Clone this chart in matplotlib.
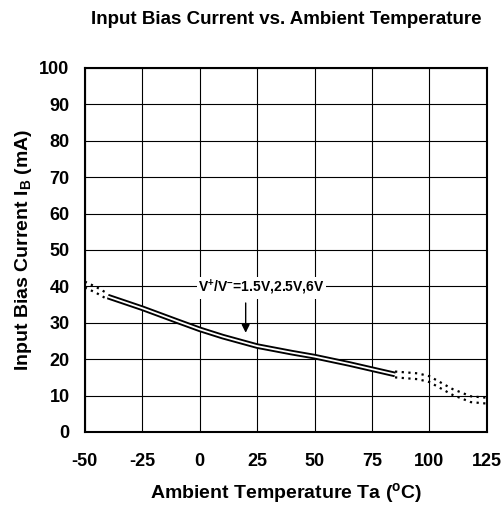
import matplotlib.pyplot as plt

plt.rcParams['font.family'] = ['Liberation Sans', 'DejaVu Sans']
plt.rcParams['font.weight'] = 'bold'
plt.rcParams['mathtext.default'] = 'regular'
plt.rcParams['axes.unicode_minus'] = False

# 实测曲线 (-40 ~ 85 实线)
temp = [-40, -25, -10, 0, 10, 25, 40, 50, 65, 85]
ib = [37.2, 34.0, 30.5, 28.2, 26.2, 23.6, 21.8, 20.7, 18.7, 15.8]
# 外推部分 (虚线)
temp_lo = [-50, -45, -40]
ib_lo = [40.5, 39.0, 37.2]
temp_hi = [85, 95, 100, 110, 118, 125]
ib_hi = [15.8, 15.3, 14.5, 11.0, 9.0, 8.6]

xticks = [-50, -25, 0, 25, 50, 75, 100, 125]
yticks = list(range(0, 101, 10))

fig = plt.figure(figsize=(5.02, 5.05), dpi=100)
ax = fig.add_axes([0.169, 0.1446, 0.801, 0.7208])

# 双线效果: 粗黑线 + 细白线
ax.plot(temp, ib, color='black', lw=4.0, solid_capstyle='butt', zorder=3)
ax.plot(temp, ib, color='white', lw=1.3, solid_capstyle='butt', zorder=4)
off = 0.8
for tx, iy in [(temp_lo, ib_lo), (temp_hi, ib_hi)]:
    ax.plot(tx, [v + off for v in iy], color='black', lw=1.6, ls=(0, (1, 2)), zorder=3)
    ax.plot(tx, [v - off for v in iy], color='black', lw=1.6, ls=(0, (1, 2)), zorder=3)

ax.set_xlim(-50, 125)
ax.set_ylim(0, 100)
ax.set_xticks(xticks)
ax.set_yticks(yticks)
ax.tick_params(length=0, labelsize=13, pad=15)
ax.tick_params(axis='y', pad=11)
for lab in ax.get_xticklabels() + ax.get_yticklabels():
    lab.set_fontweight('bold')
ax.grid(True, color='black', lw=0.8)
for s in ax.spines.values():
    s.set_linewidth(1.5)

ax.text(27, 39.6, 'V$^{+}$/V$^{-}$=1.5V,2.5V,6V', fontsize=10, fontweight='bold',
        ha='center', va='center', zorder=5,
        bbox=dict(facecolor='white', edgecolor='none', pad=1))
ax.annotate('', xy=(20, 26.5), xytext=(20, 36.2),
            arrowprops=dict(arrowstyle='-|>', color='black', lw=1, mutation_scale=12), zorder=5)

ax.set_title('Input Bias Current vs. Ambient Temperature', fontsize=13.5, fontweight='bold', pad=32)
ax.set_xlabel('Ambient Temperature Ta ($^{o}$C)', fontsize=14, fontweight='bold', labelpad=8)
ax.set_ylabel('Input Bias Current I$_{B}$ (mA)', fontsize=14, fontweight='bold', labelpad=4)

plt.savefig('out.png', dpi=100)
